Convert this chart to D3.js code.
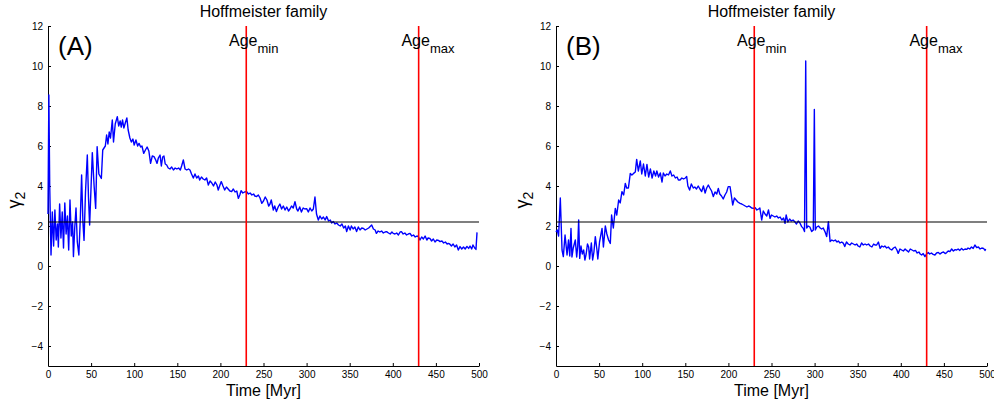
<!DOCTYPE html>
<html>
<head>
<meta charset="utf-8">
<title>Hoffmeister family</title>
<script src="https://cdn.jsdelivr.net/npm/d3@7"></script>
<style>
  body { margin: 0; background: #fff; }
  svg text { font-family: "Liberation Sans", Arial, Helvetica, sans-serif; fill: #000; }
  .axis path, .axis line { stroke: #000; }
  .axis text { font-size: 10px; }
</style>
</head>
<body>
<svg width="994" height="407"></svg>
<script>
// panel labels and reference lines
var panels = ["(A)", "(B)"];
var xTicks = [0, 50, 100, 150, 200, 250, 300, 350, 400, 450, 500];
var yTicks = [-4, -2, 0, 2, 4, 6, 8, 10, 12];
var ageMin = 230, ageMax = 430;
var threshold = 2.2;

// gamma_2 vs time [Myr]
var pointsA = [[0,2.6],[1,8.55],[2,4.0],[3.5,0.55],[5,2.7],[6.5,1.0],[8,2.8],[9.5,1.3],[11,2.1],[12,0.95],
[13.5,3.1],[15,1.4],[16.5,2.7],[18,0.9],[19.5,3.15],[21,1.6],[22.5,2.5],[24,0.8],[25.5,3.3],[27,1.5],
[28.5,2.2],[29.5,0.47],[31,1.9],[32.5,2.9],[34,1.2],[35.8,0.55],[37.5,2.4],[39,4.55],[40.5,2.2],[41.8,1.28],
[43.5,3.7],[45.6,5.55],[47,3.4],[48.3,2.05],[50,4.0],[51.4,5.67],[53.5,4.0],[55.3,2.88],[57,5.97],[59,4.6],
[61.9,4.38],[63.5,5.8],[65,5.9],[66.5,6.0],[68,6.55],[69.5,6.1],[71,6.7],[72.5,6.4],[74.6,7.3],[76,6.2],
[78,7.1],[80.4,7.47],[82,7.0],[83.7,7.25],[85,6.95],[86.5,7.3],[88,6.9],[90,7.2],[91.5,7.4],[93,6.8],
[95,6.4],[96.7,6.2],[98.5,6.35],[100,6.05],[102,6.3],[104,6.0],[105.6,6.13],[107.5,5.95],[109,6.0],[111,5.63],
[113,5.8],[115,5.95],[117,5.75],[119,5.13],[121,5.5],[123,5.47],[125,5.3],[126.5,5.13],[128,5.4],[130,5.55],
[131.5,5.0],[133,5.45],[134.5,5.5],[136,5.1],[137.7,5.05],[139.5,4.9],[141.5,4.85],[143.5,4.95],[145.5,4.8],[147.5,4.9],
[149.5,4.85],[151.5,4.9],[153.5,4.8],[155,5.0],[157,5.3],[159,4.85],[161,4.8],[163,4.85],[164.7,4.8],[166.5,4.6],
[168.6,4.4],[170.5,4.6],[172.5,4.4],[174.5,4.5],[176,4.3],[178,4.45],[180,4.35],[182,4.3],[184,4.4],[186,4.05],
[188,4.25],[190,4.15],[192,4.0],[194,4.2],[196,4.05],[197.5,3.8],[199.5,4.05],[201,4.22],[203,4.0],[205,3.8],
[207,3.95],[209,3.85],[211,3.75],[213,3.72],[215,3.85],[217,3.7],[219,3.75],[220.8,3.38],[222.5,3.55],[224,3.77],
[226,3.65],[228,3.7],[230.5,3.72],[232.5,3.6],[234.5,3.65],[236.5,3.55],[238.5,3.6],[240,3.5],[242,3.47],[244,3.55],
[246,3.4],[248,3.13],[250,3.25],[252,3.45],[254,3.3],[256,3.0],[257.5,3.1],[259,3.3],[261.4,2.8],[263,3.0],
[265,2.72],[267,2.95],[269,3.1],[271,2.85],[273,3.0],[275,2.8],[277,2.95],[279,2.75],[280.7,2.85],[282.5,3.0],
[284.5,2.9],[286.5,3.22],[288.5,2.85],[290,2.75],[292,2.95],[294,2.7],[296,2.9],[298,2.85],[300,2.87],[302,2.7],
[304,2.9],[306,2.75],[307.8,2.85],[309.7,3.45],[311.5,2.6],[313.6,2.3],[315.5,2.5],[317.5,2.35],[319.5,2.45],[321.5,2.3],
[323.3,2.47],[325.5,2.25],[327.5,2.3],[329,2.15],[331,2.22],[333,2.1],[335,2.15],[337,2.05],[339,2.0],[341,2.1],
[343,1.9],[345,2.0],[346.5,1.72],[348.5,2.0],[350.5,1.8],[352,2.0],[354,1.85],[356,1.95],[358,1.72],[360,1.95],
[362,1.8],[364,1.9],[366,1.88],[368,1.8],[370,1.85],[372,1.9],[375.5,2.05],[377.5,1.85],[379.5,1.8],[381,1.63],
[383,1.75],[385,1.7],[387,1.75],[389,1.65],[391,1.7],[392.8,1.72],[395,1.65],[397,1.6],[399,1.7],[400.5,1.63],
[402.5,1.6],[404.5,1.65],[406.5,1.55],[408.5,1.7],[410,1.72],[412,1.6],[414,1.65],[416,1.55],[418,1.6],[420,1.63],
[422,1.5],[424,1.55],[426,1.45],[428,1.5],[429.6,1.47],[431.5,1.3],[433.5,1.45],[435.5,1.35],[437.5,1.5],[439.5,1.3],
[441,1.4],[443,1.38],[445,1.25],[447,1.35],[449,1.2],[451,1.3],[453,1.28],[454.8,1.22],[457,1.25],[459,1.15],
[461,1.2],[463,1.1],[464.4,1.13],[466,1.1],[468,1.0],[470,1.1],[472,0.95],[474,1.05],[476,0.8],[478,0.97],
[480,0.85],[482,0.95],[484,0.85],[486,0.98],[488,0.88],[489.6,1.0],[491.5,0.85],[493,1.05],[495,0.9],[496.5,0.83],
[497.7,1.68]];

var pointsB = [[0,1.7],[1.5,1.8],[3,1.5],[5,3.4],[7,0.8],[8.5,0.47],[10.5,1.55],[12.8,0.55],[14.5,1.3],[16,0.5],
[17.4,1.88],[18.5,0.45],[20,0.9],[22.4,1.3],[24,0.45],[25.2,1.0],[26.3,2.3],[27.5,0.38],[29,1.0],[30.5,0.6],
[32.1,0.8],[33.5,0.3],[35,0.6],[36.5,1.1],[37.9,0.95],[39,0.35],[41,1.15],[42.5,0.3],[44,0.7],[45.6,1.47],
[47.5,0.8],[48.5,0.35],[50.5,1.2],[53.4,1.88],[55,0.95],[57.2,2.0],[59,1.6],[61,1.3],[63,1.13],[64.5,2.55],
[66.5,1.9],[68.8,2.88],[70.5,2.55],[72.7,3.3],[74.5,3.15],[76.5,3.72],[78.5,3.55],[80.4,4.13],[82,3.9],[84,3.9],
[86.2,4.63],[88,4.55],[90,4.63],[92,4.7],[93.6,5.33],[95.5,4.75],[97.8,5.25],[99.5,4.6],[101.5,5.1],[103.6,4.5],
[105.5,5.08],[107.5,4.45],[109.5,4.85],[111.5,4.4],[113.5,4.75],[115.5,4.5],[117,4.75],[119,4.45],[121,4.65],[123,4.2],
[124.5,4.65],[126.5,4.5],[128.5,4.6],[130.5,4.55],[132.6,4.75],[134.5,4.5],[136.5,4.55],[138.5,4.4],[140.5,4.45],[142,4.3],
[143.9,4.3],[146,4.4],[148,4.35],[150,4.4],[151.6,4.47],[153,4.0],[155,3.8],[157,4.1],[159.3,3.9],[161,3.95],
[163,3.85],[165,4.0],[167,3.85],[169,3.72],[171,4.0],[173,3.65],[174.8,3.9],[176.7,4.05],[178.5,3.9],[180.5,3.75],
[182.5,3.47],[184.5,3.7],[186.5,3.6],[188.3,3.88],[190,3.6],[192,3.5],[194,3.35],[196,3.55],[198,3.7],[199.8,3.97],
[201.9,3.97],[203.5,3.5],[205,3.05],[207,3.4],[209,3.3],[211,3.2],[213.5,3.13],[215.5,3.1],[217.5,3.05],[219.5,3.0],
[221.5,2.95],[223.5,3.0],[225,2.97],[227,2.9],[228.9,2.88],[231,2.92],[233,2.8],[235,2.85],[236.5,2.9],[238.6,2.3],
[240.5,2.75],[242.5,2.6],[244.5,2.5],[246.5,2.8],[248.3,2.38],[250,2.55],[252,2.5],[254,2.45],[256,2.5],[258,2.4],
[260,2.45],[262,2.3],[264,2.4],[265.7,2.13],[267,2.55],[269,2.2],[271,2.35],[273,2.25],[275,2.3],[277.3,2.2],
[279,2.1],[281,2.25],[283,2.15],[285,1.97],[286.9,1.88],[288.3,1.72],[289.7,10.25],[290.8,1.9],[292.5,2.0],[294.5,1.95],
[296.6,1.72],[298.5,1.8],[299.7,7.83],[300.8,1.8],[302.5,1.95],[304.5,2.0],[306.5,1.9],[308.2,1.85],[310,1.9],[312,1.72],
[314,1.47],[316,2.22],[318,1.22],[320,1.3],[322,1.25],[324,1.3],[326,1.2],[327.5,1.25],[329.5,1.15],[331.5,1.2],
[333.5,1.13],[335,0.97],[337,1.2],[339,1.1],[341,1.05],[343,1.15],[345,1.1],[347,1.05],[348.8,1.1],[350.5,1.0],
[352.5,0.95],[354.5,1.15],[356.5,1.05],[358.5,1.1],[360.4,1.05],[362.5,1.1],[364.5,1.0],[366.5,0.95],[368.5,1.1],[370,1.05],
[372,1.05],[374,1.2],[376,0.88],[378,1.0],[380,0.95],[381.5,1.0],[383.6,0.9],[385.5,0.95],[387.5,0.85],[389.5,0.8],
[391.5,0.9],[393.5,0.95],[395.5,0.8],[397,0.63],[399,0.85],[401,0.8],[403,0.75],[405,0.85],[406.8,0.78],[409,0.7],
[411,0.85],[413,0.8],[415,0.75],[417,0.78],[419,0.65],[421,0.7],[422.5,0.6],[424.2,0.55],[426,0.62],[428,0.47],
[429.8,0.6],[431.9,0.67],[433.5,0.6],[435.5,0.65],[437.5,0.58],[439.6,0.55],[441.5,0.65],[443.5,0.68],[445.5,0.6],[447.5,0.67],
[449.5,0.7],[451.5,0.62],[453.2,0.67],[455,0.75],[457,0.72],[459,0.85],[461,0.75],[463,0.82],[464.8,0.8],[466.5,0.85],
[468.5,0.78],[470.5,0.88],[472.5,0.8],[474.5,0.85],[476.4,0.83],[478,0.9],[480,0.85],[482,0.95],[484,0.88],[486,1.05],
[488,0.92],[490,0.95],[492,0.85],[494,0.9],[496,0.88],[497.7,0.78],[498.5,0.85]];

var svg = d3.select("svg");

function drawPanel(left, right, points, label) {
  var x = d3.scaleLinear().domain([0, 500]).range([left, right]);
  var y = d3.scaleLinear().domain([-5, 12]).range([366, 26]);
  var g = svg.append("g");

  // axes, ticks pointing in
  g.append("g").attr("class", "axis")
    .attr("transform", "translate(0,366)")
    .call(d3.axisBottom(x).tickValues(xTicks).tickSizeInner(-3).tickSizeOuter(0).tickPadding(5));
  g.append("g").attr("class", "axis")
    .attr("transform", "translate(" + left + ",0)")
    .call(d3.axisLeft(y).tickValues(yTicks).tickSizeInner(-3).tickSizeOuter(0).tickPadding(5));

  var line = d3.line().x(function(d) { return x(d[0]); }).y(function(d) { return y(d[1]); });

  g.append("path")
    .datum(points)
    .attr("d", line)
    .attr("fill", "none")
    .attr("stroke", "#0000ff")
    .attr("stroke-width", 1.4)
    .attr("stroke-linejoin", "round");

  // threshold line
  g.append("line")
    .attr("x1", x(0)).attr("x2", x(500))
    .attr("y1", y(threshold)).attr("y2", y(threshold))
    .attr("stroke", "#000").attr("stroke-width", 1.2);

  // age lines
  [ageMin, ageMax].forEach(function(a) {
    g.append("line")
      .attr("x1", x(a)).attr("x2", x(a))
      .attr("y1", y(12)).attr("y2", y(-5))
      .attr("stroke", "#ff0000").attr("stroke-width", 1.6);
  });

  var ages = [["min", ageMin], ["max", ageMax]];
  ages.forEach(function(a) {
    var t = g.append("text")
      .attr("x", x(a[1] - 20))
      .attr("y", 46)
      .style("font-size", "16px");
    t.append("tspan").text("Age");
    t.append("tspan").attr("dy", 7).style("font-size", "13px").text(a[0]);
  });

  g.append("text")
    .attr("x", left + 10)
    .attr("y", 55)
    .style("font-size", "26px")
    .text(label);

  g.append("text")
    .attr("x", (left + right) / 2)
    .attr("y", 17)
    .attr("text-anchor", "middle")
    .style("font-size", "16px")
    .text("Hoffmeister family");

  g.append("text")
    .attr("x", (left + right) / 2)
    .attr("y", 396)
    .attr("text-anchor", "middle")
    .style("font-size", "16px")
    .text("Time [Myr]");

  var yl = g.append("text")
    .attr("transform", "translate(" + (left - 28) + ",200) rotate(-90)")
    .attr("text-anchor", "middle")
    .style("font-size", "18px");
  yl.append("tspan").text("γ");
  yl.append("tspan").attr("dy", 5).style("font-size", "14px").text("2");
}

drawPanel(48, 479, pointsA, panels[0]);
drawPanel(556, 987, pointsB, panels[1]);
</script>
</body>
</html>
